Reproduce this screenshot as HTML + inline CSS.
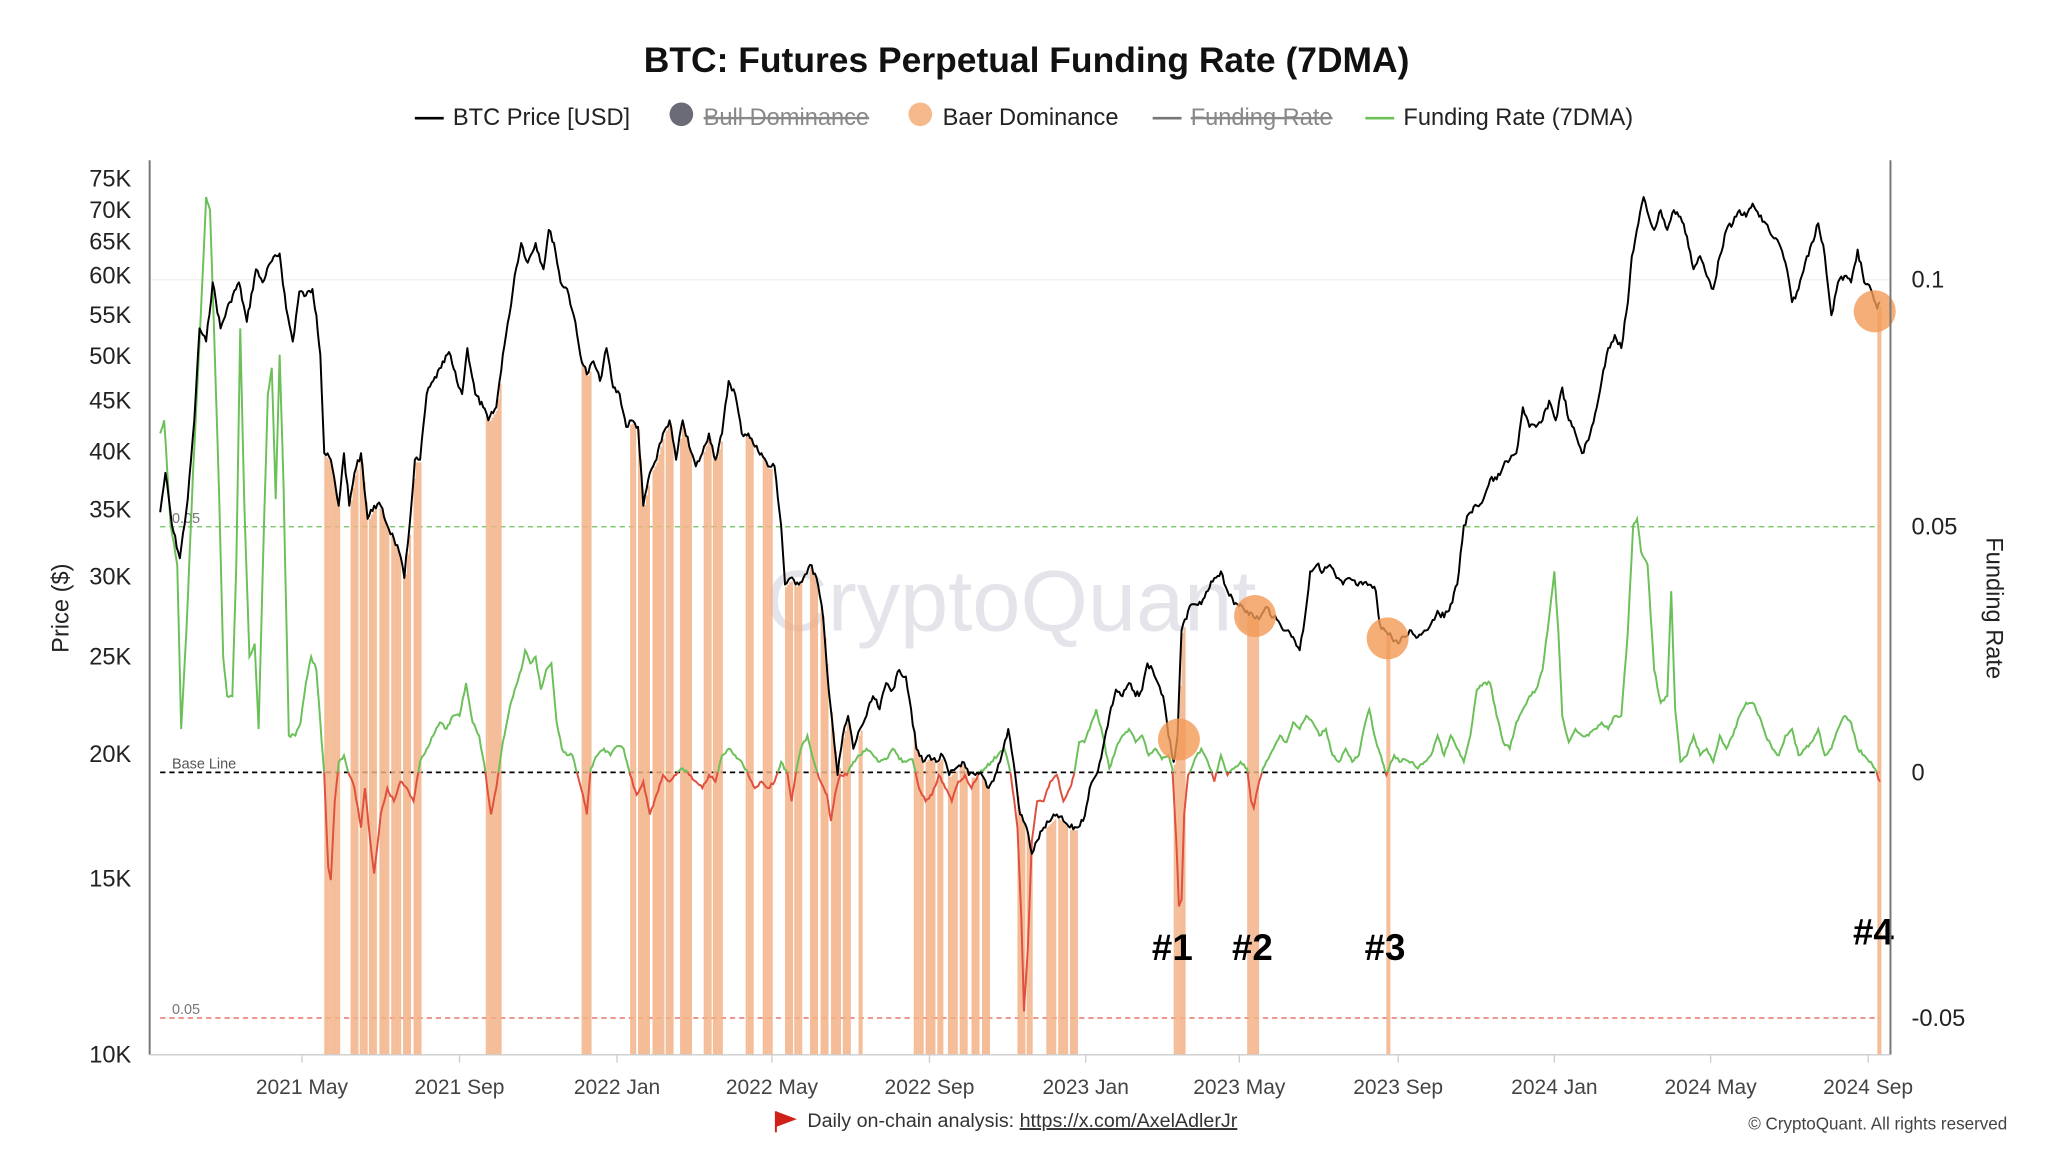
<!DOCTYPE html>
<html><head><meta charset="utf-8"><style>
html,body{margin:0;padding:0;background:#fff}
svg{display:block}
text{font-family:"Liberation Sans",sans-serif}
</style></head><body>
<svg width="2048" height="1152" viewBox="0 0 1560 877" preserveAspectRatio="none" xmlns="http://www.w3.org/2000/svg">
<defs>
<clipPath id="above"><rect x="0" y="0" width="1560" height="588"/></clipPath>
<clipPath id="below"><rect x="0" y="588" width="1560" height="300"/></clipPath>
</defs>
<text x="782" y="55" text-anchor="middle" font-size="27" font-weight="bold" fill="#111">BTC: Futures Perpetual Funding Rate (7DMA)</text>
<g font-size="18" fill="#222">
<line x1="316" y1="90" x2="338" y2="90" stroke="#000" stroke-width="2"/>
<text x="345" y="95">BTC Price [USD]</text>
<circle cx="519" cy="87" r="9" fill="#6b6b78"/>
<text x="536" y="95" fill="#888" text-decoration="line-through">Bull Dominance</text>
<circle cx="701" cy="87" r="9" fill="#f5b98c"/>
<text x="718" y="95">Baer Dominance</text>
<line x1="878" y1="90" x2="900" y2="90" stroke="#777" stroke-width="2"/>
<text x="907" y="95" fill="#888" text-decoration="line-through">Funding Rate</text>
<line x1="1040" y1="90" x2="1062" y2="90" stroke="#6cc05a" stroke-width="2"/>
<text x="1069" y="95">Funding Rate (7DMA)</text>
</g>
<text x="770" y="480" text-anchor="middle" font-size="66" fill="#e4e4ea">CryptoQuant</text>
<line x1="114" y1="213" x2="1440" y2="213" stroke="#f0f0f0"/>
<line x1="122" y1="401" x2="1432" y2="401" stroke="#6cc05a" stroke-dasharray="4,3"/>
<line x1="122" y1="588" x2="1432" y2="588" stroke="#000" stroke-dasharray="4,3" stroke-width="1.3"/>
<line x1="122" y1="775" x2="1432" y2="775" stroke="#e05a4a" stroke-dasharray="4,3"/>
<text x="131" y="398" font-size="11" fill="#777">0.05</text>
<text x="131" y="585" font-size="11" fill="#555">Base Line</text>
<text x="131" y="772" font-size="11" fill="#777">0.05</text>
<g id="bars" fill="#f3b287" opacity="0.85"></g>
<polyline id="fg" fill="none" stroke="#6cc05a" stroke-width="1.5" clip-path="url(#above)"/>
<polyline id="fr" fill="none" stroke="#e0503f" stroke-width="1.5" clip-path="url(#below)"/>
<polyline id="pr" fill="none" stroke="#000" stroke-width="1.5" stroke-linejoin="round"/>
<g fill="#f39a55" opacity="0.8">
<circle cx="898" cy="563" r="16"/><circle cx="956" cy="469" r="16"/><circle cx="1057" cy="486" r="16"/><circle cx="1428" cy="237" r="16"/>
</g>
<g font-size="28" font-weight="bold" fill="#000" text-anchor="middle">
<text x="893" y="731">#1</text><text x="954" y="731">#2</text><text x="1055" y="731">#3</text><text x="1427" y="719">#4</text>
</g>
<line x1="114" y1="122" x2="114" y2="803" stroke="#777" stroke-width="1.5"/>
<line x1="1440" y1="122" x2="1440" y2="803" stroke="#777" stroke-width="1.5"/>
<line x1="114" y1="803" x2="1440" y2="803" stroke="#ccc"/>
<g font-size="18" fill="#222" text-anchor="end">
<text x="100" y="142">75K</text><text x="100" y="166">70K</text><text x="100" y="190">65K</text><text x="100" y="216">60K</text><text x="100" y="246">55K</text><text x="100" y="277">50K</text><text x="100" y="311">45K</text><text x="100" y="350">40K</text><text x="100" y="394">35K</text><text x="100" y="445">30K</text><text x="100" y="506">25K</text><text x="100" y="580">20K</text><text x="100" y="675">15K</text><text x="100" y="809">10K</text>
</g>
<g font-size="18" fill="#222">
<text x="1456" y="219">0.1</text><text x="1456" y="407">0.05</text><text x="1456" y="594">0</text><text x="1456" y="781">-0.05</text>
</g>
<text transform="translate(52,463) rotate(-90)" font-size="18" text-anchor="middle" fill="#222">Price ($)</text>
<text transform="translate(1513,463) rotate(90)" font-size="18" text-anchor="middle" fill="#222">Funding Rate</text>
<g stroke="#ccc"><line x1="230" y1="803" x2="230" y2="809"/><line x1="350" y1="803" x2="350" y2="809"/><line x1="470" y1="803" x2="470" y2="809"/><line x1="588" y1="803" x2="588" y2="809"/><line x1="708" y1="803" x2="708" y2="809"/><line x1="827" y1="803" x2="827" y2="809"/><line x1="944" y1="803" x2="944" y2="809"/><line x1="1065" y1="803" x2="1065" y2="809"/><line x1="1184" y1="803" x2="1184" y2="809"/><line x1="1303" y1="803" x2="1303" y2="809"/><line x1="1423" y1="803" x2="1423" y2="809"/></g>
<g font-size="16" fill="#444" text-anchor="middle">
<text x="230" y="833">2021 May</text><text x="350" y="833">2021 Sep</text><text x="470" y="833">2022 Jan</text><text x="588" y="833">2022 May</text><text x="708" y="833">2022 Sep</text><text x="827" y="833">2023 Jan</text><text x="944" y="833">2023 May</text><text x="1065" y="833">2023 Sep</text><text x="1184" y="833">2024 Jan</text><text x="1303" y="833">2024 May</text><text x="1423" y="833">2024 Sep</text>
</g>
<polygon points="591,846 607,852 591,858" fill="#d0201a"/>
<line x1="591" y1="846" x2="591" y2="862" stroke="#d0201a" stroke-width="1.5"/>
<text x="615" y="858" font-size="15" fill="#333">Daily on-chain analysis: <tspan text-decoration="underline">https://x.com/AxelAdlerJr</tspan></text>
<text x="1529" y="860" font-size="13" fill="#444" text-anchor="end">© CryptoQuant. All rights reserved</text>
</svg>
<script>
var P=[122,390,126,360,131,400,137,425,143,380,148,320,152,250,157,260,162,215,168,250,175,230,182,215,188,245,195,205,200,215,206,200,213,193,218,235,223,260,228,222,233,225,238,220,241,240,244,270,247,345,252,350,258,385,262,345,266,385,270,360,275,345,280,395,285,385,290,385,295,400,300,410,304,420,308,440,312,400,316,350,320,350,325,300,330,290,336,280,342,268,348,290,352,300,356,265,362,300,368,310,372,320,378,310,383,270,388,240,392,210,397,185,402,200,408,185,414,205,418,175,422,185,427,215,432,220,437,240,442,270,447,285,452,275,457,290,462,265,467,295,472,300,477,325,481,320,486,325,490,385,495,360,500,350,505,330,510,320,515,350,520,320,525,340,530,355,535,345,540,330,545,350,550,330,555,290,560,300,565,330,570,330,575,340,580,345,585,355,590,355,595,400,598,445,602,440,606,445,612,440,617,430,622,440,627,470,630,510,634,550,638,590,642,560,646,545,650,570,655,555,660,545,665,530,670,540,675,520,680,525,685,510,690,515,694,540,698,570,703,580,708,575,713,580,718,575,723,590,728,585,733,580,738,590,743,590,748,590,753,600,758,590,763,575,768,555,772,580,777,620,782,630,786,650,790,640,795,630,800,625,805,620,810,625,815,630,820,630,825,625,830,600,835,590,840,570,845,545,850,525,855,530,860,520,865,530,870,525,874,505,878,510,882,520,886,530,890,560,894,580,897,560,900,480,905,465,910,460,915,460,920,450,925,440,930,435,935,450,940,460,945,460,950,465,955,470,960,470,965,462,970,470,975,475,980,480,985,485,990,495,994,470,998,435,1003,430,1008,435,1013,430,1018,440,1023,445,1028,440,1033,445,1038,445,1043,445,1048,450,1051,475,1055,480,1060,485,1065,490,1070,485,1075,480,1080,485,1085,480,1090,475,1095,465,1100,470,1105,460,1110,445,1115,400,1120,390,1125,385,1130,380,1135,365,1140,365,1145,355,1150,350,1155,345,1160,310,1165,325,1170,325,1175,320,1180,305,1185,320,1190,295,1195,320,1200,330,1205,345,1210,335,1215,315,1220,290,1225,265,1230,255,1235,265,1240,230,1243,195,1248,170,1252,150,1256,165,1260,175,1265,160,1270,175,1275,160,1280,165,1285,180,1290,205,1295,195,1300,210,1305,220,1310,195,1315,175,1320,170,1325,160,1330,165,1335,155,1340,165,1345,170,1350,180,1355,185,1360,200,1365,230,1370,220,1375,200,1380,185,1385,170,1390,195,1395,240,1400,215,1405,210,1410,215,1415,190,1420,215,1425,220,1430,235,1432,230];
var F=[122,330,125,320,130,400,135,430,138,555,142,480,147,360,152,260,157,150,160,160,163,250,167,380,170,500,173,530,177,530,180,430,183,250,186,380,190,500,194,490,197,555,200,440,204,300,207,280,210,380,213,270,216,370,220,560,225,560,229,550,233,520,237,500,241,510,244,550,247,590,250,660,252,670,255,610,258,580,262,575,266,590,270,600,275,630,278,600,282,640,285,665,290,620,295,600,300,610,305,595,310,600,315,610,320,580,325,570,330,560,335,550,340,555,345,545,350,545,355,520,360,550,365,560,370,590,374,620,378,600,383,565,388,540,392,525,397,510,400,495,404,505,408,500,412,525,416,510,420,505,424,550,428,570,432,575,436,575,440,590,444,605,447,620,450,585,455,575,460,570,465,575,470,568,475,570,480,590,485,605,490,595,495,620,500,605,505,590,510,595,515,590,520,585,525,590,530,595,535,600,540,590,545,595,550,575,555,570,560,575,565,580,570,590,575,600,580,595,585,600,590,595,595,580,600,590,603,610,606,590,610,570,615,560,620,580,625,595,630,605,633,625,636,605,640,590,645,590,650,580,655,575,660,570,665,575,670,580,675,578,680,570,685,578,690,580,695,578,700,600,705,610,710,605,715,590,720,600,725,610,730,595,735,590,740,600,745,590,750,585,755,580,760,575,765,570,770,590,775,630,778,700,780,770,783,720,786,640,790,610,795,610,800,595,805,590,810,610,815,600,818,590,822,565,826,565,830,555,835,540,840,560,845,585,850,570,855,560,860,555,865,565,870,560,875,575,880,570,885,578,890,575,893,585,896,640,898,690,900,685,902,620,905,590,910,578,915,570,920,580,925,595,930,575,935,590,940,585,945,580,950,585,953,610,955,615,958,600,962,585,966,578,970,570,975,560,980,565,985,550,990,555,995,545,1000,550,1005,560,1010,555,1015,575,1020,580,1025,570,1030,580,1035,575,1040,550,1043,540,1047,560,1050,570,1053,580,1056,590,1058,585,1062,575,1066,580,1070,578,1075,580,1080,585,1085,580,1090,575,1095,560,1100,575,1105,560,1110,570,1115,580,1120,560,1125,525,1130,520,1135,520,1140,545,1145,565,1150,570,1155,550,1160,540,1165,530,1170,525,1175,510,1180,470,1184,435,1187,480,1190,545,1195,565,1200,555,1205,560,1210,560,1215,555,1220,550,1225,555,1230,545,1235,545,1240,480,1244,400,1247,395,1250,420,1255,430,1260,510,1265,535,1270,530,1273,450,1276,540,1280,580,1285,575,1290,560,1295,575,1300,570,1305,580,1310,560,1315,570,1320,560,1325,545,1330,535,1335,535,1340,545,1345,560,1350,570,1355,575,1360,560,1365,555,1370,575,1375,570,1380,565,1385,555,1390,575,1395,570,1400,555,1405,545,1410,550,1415,570,1420,575,1425,580,1428,585,1432,595];
var seed=7;function rnd(){seed=(seed*9301+49297)%233280;return seed/233280-0.5;}
function dens(A,amp){var o=[];for(var i=0;i<A.length-2;i+=2){var x0=A[i],y0=A[i+1],x1=A[i+2],y1=A[i+3];var n=Math.max(1,Math.round((x1-x0)/1.2));for(var k=0;k<n;k++){var t=k/n;var y=y0+(y1-y0)*t+(k?rnd()*amp:0);o.push([x0+(x1-x0)*t,y]);}}o.push([A[A.length-2],A[A.length-1]]);return o;}
var pd=dens(P,5),fd=dens(F,2.5);
function s(a){return a.map(function(p){return p[0].toFixed(1)+","+p[1].toFixed(1)}).join(" ");}
document.getElementById("pr").setAttribute("points",s(pd));
document.getElementById("fg").setAttribute("points",s(fd));
document.getElementById("fr").setAttribute("points",s(fd));
function py(x){for(var i=0;i<P.length-2;i+=2){if(x>=P[i]&&x<=P[i+2]){var t=(x-P[i])/(P[i+2]-P[i]);return P[i+1]+(P[i+3]-P[i+1])*t;}}return 230;}
var B=[[247,258],[267,272],[274,279],[281,287],[289,296],[298,305],[307,313],[315,320],[370,381],[443,450],[480,484],[486,495],[497,505],[507,512],[518,526],[536,541],[543,550],[568,574],[581,588],[598,604],[605,610],[617,623],[625,631],[633,640],[642,648],[654,657],[696,703],[705,712],[714,718],[722,729],[731,736],[740,746],[748,753],[775,780],[782,786],[797,804],[806,813],[815,820],[894,902],[950,958],[1056,1059],[1430,1433]];
var g=document.getElementById("bars");var h="";
B.forEach(function(b){for(var x=b[0];x<b[1];x+=1.5){var y=py(x)+2;h+='<rect x="'+x+'" y="'+y.toFixed(1)+'" width="1.6" height="'+(803-y).toFixed(1)+'"/>';}});
g.innerHTML=h;
</script>
</body></html>
